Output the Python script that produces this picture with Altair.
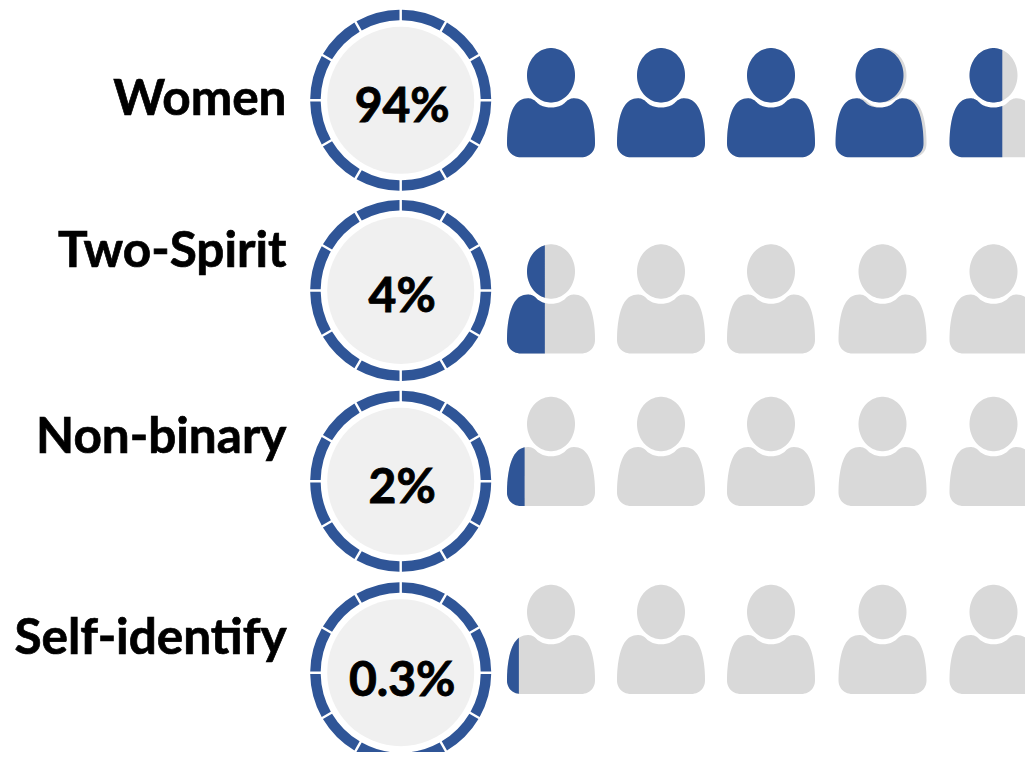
import altair as alt
import numpy as np
import pandas as pd

# ---- values ----
ROW_LABELS = ["Women", "Two-Spirit", "Non-binary", "Self-identify"]
ROW_PERCENTS = ["94%", "4%", "2%", "0.3%"]
LABEL_Y = [100, 252, 438, 639]
PERCENT_Y = [107.5, 297.5, 488.5, 681.5]
RING_X = 400.7
RING_Y = [100.3, 290.5, 481.3, 672.7]
ICON_X = [551, 661, 771, 882.5, 993.5]
ICON_Y = [102.8, 299, 451.5, 639.5]
# share of each icon drawn in blue, per row
ICON_FILL = [
    [1, 1, 1, 1, 0.6],
    [0.43, 0, 0, 0, 0],
    [0.2, 0, 0, 0, 0],
    [0.135, 0, 0, 0, 0],
]
BLUE_SHIFT = [[0, 0, 0, -3, 0], [0] * 5, [0] * 5, [0] * 5]
SEGMENTS = 12

BLUE, GREY, DISC = "#2f5597", "#d9d9d9", "#f0f0f0"
FONT = "Lato"
W, H = 1017, 744
S = 55.0  # half side of the square a custom symbol path lives in


# ---- person glyph as outline polygons ----
def cubic(p0, p1, p2, p3, n=14):
    t = np.linspace(0, 1, n)[:, None]
    p0, p1, p2, p3 = map(np.array, (p0, p1, p2, p3))
    return (1 - t) ** 3 * p0 + 3 * (1 - t) ** 2 * t * p1 + 3 * (1 - t) * t ** 2 * p2 + t ** 3 * p3


def person():
    a = np.linspace(0, 2 * np.pi, 90, endpoint=False)
    head = np.c_[24 * np.cos(a), -27.5 + 27.2 * np.sin(a)]
    right = np.vstack([
        cubic((0, 4.8), (6, 4.8), (10, 3), (13.5, 0.5)),
        cubic((13.5, 0.5), (16, -2.5), (19, -4.5), (23, -4.5)),
        cubic((23, -4.5), (33, -4.5), (38, 3), (41, 14)),
        cubic((41, 14), (43.5, 24), (44, 33), (44, 41)),
        cubic((44, 41), (44, 49), (38, 54.5), (30, 54.5)),
    ])
    left = right[::-1] * np.array([-1, 1])
    return head, np.vstack([right, left])


def clip_right(poly, c):
    out = []
    for i in range(len(poly)):
        a, b = poly[i], poly[(i + 1) % len(poly)]
        ina, inb = a[0] <= c, b[0] <= c
        if ina:
            out.append(a)
        if ina != inb:
            t = (c - a[0]) / (b[0] - a[0])
            out.append(a + t * (b - a))
    return np.array(out) if out else np.zeros((0, 2))


def glyph(fraction):
    c = -44 + 88 * fraction
    d = ""
    for poly in person():
        pts = clip_right(poly, c) if fraction < 1 else poly
        if len(pts) < 3:
            continue
        pts = pts / S
        d += "M" + "L".join(f"{x:.4f},{y:.4f}" for x, y in pts) + "Z"
    return d


# ---- tables ----
grey_rows, blue_rows = [], []
for r, y in enumerate(ICON_Y):
    for i, x in enumerate(ICON_X):
        grey_rows.append({"x": x, "y": y, "path": glyph(1)})
        f = ICON_FILL[r][i]
        if f > 0:
            blue_rows.append({"x": x + BLUE_SHIFT[r][i], "y": y, "path": glyph(f)})

ring_rows = []
for y in RING_Y:
    for k in range(SEGMENTS):
        ring_rows.append({
            "x": RING_X, "y": y,
            "a0": 2 * np.pi * k / SEGMENTS,
            "a1": 2 * np.pi * (k + 1) / SEGMENTS,
        })

disc_df = pd.DataFrame({"x": [RING_X] * 4, "y": RING_Y})
label_df = pd.DataFrame({"x": [286.5] * 4, "y": LABEL_Y, "t": ROW_LABELS})
pct_df = pd.DataFrame({"x": [RING_X + 1.5] * 4, "y": PERCENT_Y, "t": ROW_PERCENTS})

X = alt.X("x:Q", scale=alt.Scale(domain=[8, 8 + W], range=[0, W], nice=False, zero=False), axis=None)
Y = alt.Y("y:Q", scale=alt.Scale(domain=[8, 8 + H], range=[0, H], nice=False, zero=False), axis=None)

rings = alt.Chart(pd.DataFrame(ring_rows)).mark_arc(
    radius=90.5, radius2=80, padAngle=0.02, color=BLUE
).encode(
    x=X, y=Y,
    theta=alt.Theta("a0:Q", scale=None),
    theta2=alt.Theta2("a1:Q"),
)

discs = alt.Chart(disc_df).mark_point(
    filled=True, shape="circle", size=147 ** 2, color=DISC, opacity=1, strokeWidth=0
).encode(x=X, y=Y)


def icons(rows, colour):
    return alt.Chart(pd.DataFrame(rows)).mark_point(
        filled=True, size=(2 * S) ** 2, color=colour, opacity=1, strokeWidth=0
    ).encode(x=X, y=Y, shape=alt.Shape("path:N", scale=None, legend=None))


labels = alt.Chart(label_df).mark_text(
    align="right", baseline="middle", font=FONT, fontWeight="bold", fontSize=49.5,
    color="#000000", stroke="#000000", strokeWidth=0.7
).encode(x=X, y=Y, text="t:N")

percents = alt.Chart(pct_df).mark_text(
    align="center", baseline="middle", font=FONT, fontWeight="bold", fontSize=48,
    color="#000000", stroke="#000000", strokeWidth=0.9
).encode(x=X, y=Y, text="t:N")

chart = alt.layer(
    rings, discs, icons(grey_rows, GREY), icons(blue_rows, BLUE), labels, percents
).properties(
    width=W, height=H, padding=0,
    autosize=alt.AutoSizeParams(type="none"),
    background="#ffffff",
).configure_view(stroke=None)

chart.save("out.html", embed_options={"renderer": "svg", "actions": False})
